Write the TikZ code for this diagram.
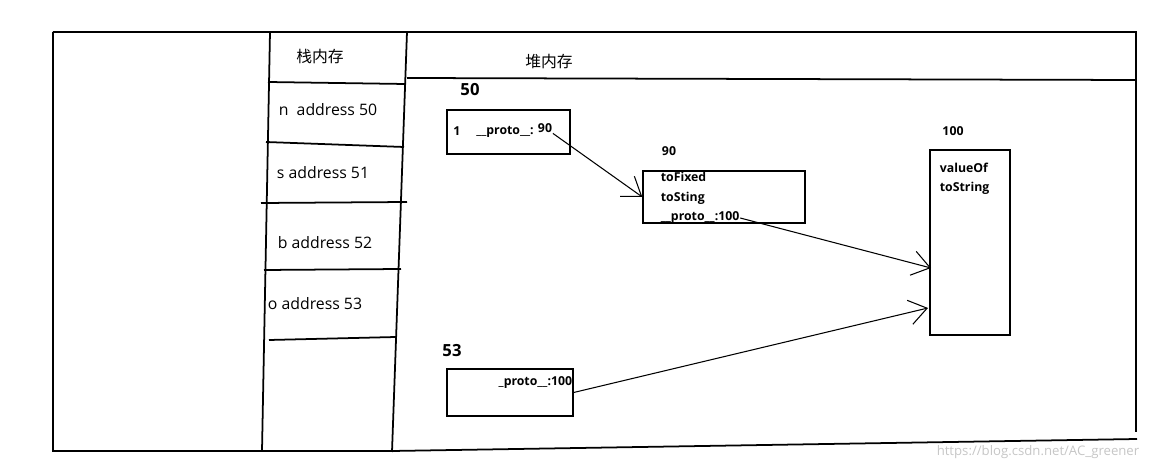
\documentclass[tikz,border=0pt]{standalone}
\usepackage{fontspec}
\setmainfont{Open Sans}
\newfontfamily\cjk{Noto Sans CJK SC}
\usetikzlibrary{arrows.meta}

\begin{document}
\begin{tikzpicture}[x=0.02cm, y=-0.02cm, line width=1pt,
        every node/.style={inner sep=0pt, font=\fontsize{9}{10}\selectfont},
        heapbox/.style={draw, line width=0.8pt},
        small/.style={font=\bfseries\fontsize{7}{8}\selectfont},
        big/.style={font=\bfseries\fontsize{9.5}{10}\selectfont},
        ptr/.style={-{Straight Barb[length=10pt,width=14pt]}, line width=0.6pt}]

            \useasboundingbox (0,0) rectangle (1164,469);

            % Outer frame
            \draw (53,32) -- (1137,32);
            \draw (53,32) -- (53,451) -- (392,451) -- (1137,439);
            \draw (1136,32) -- (1136,432);

            % Stack column
            \draw (270,32) -- (262,451);
            \draw (407,32) -- (392,452);
            \node (stack) at (320,57) {\cjk 栈内存};

            % Stack cells
            \draw (268,82) -- (405,84);
            \draw (266,142) -- (404,147);
            \draw (261,203) -- (407,202);
            \draw (264,270) -- (401,269);
            \draw (269,340) -- (396,337);
            \node (sn) at (328,110) {n\ \ address 50};
            \node (ss) at (323,173) {s address 51};
            \node (sb) at (325,243) {b address 52};
            \node (so) at (315,304) {o address 53};

            % Heap header
            \draw (407,78) -- (1136,80);
            \node (heap) at (549,62) {\cjk 堆内存};

            % Object at 50
            \node[big] (a50) at (470,90) {50};
            \node[heapbox, minimum width=2.46cm, minimum height=0.88cm] (obj50) at (508.5,132) {};
            \node[small] (one) at (457,131) {1};
            \node[small] (pr50) at (505,132) {\_\_proto\_\_:};
            \node[small] (v90) at (545,128) {90};

            % Object at 90
            \node[small] (a90) at (669,151) {90};
            \node[heapbox, minimum width=3.24cm, minimum height=1.04cm] (obj90) at (724,197) {};
            \node[small, anchor=west] (fixed) at (660,177) {toFixed};
            \node[small, anchor=west] (sting) at (660,198) {toSting};
            \node[small, anchor=west] (pr90) at (660,218) {\_\_proto\_\_:100};

            % Object at 100
            \node[small] (a100) at (953,131) {100};
            \node[heapbox, minimum width=1.6cm, minimum height=3.7cm] (obj100) at (970,242.5) {};
            \node[small, anchor=west] (valof) at (939,168) {valueOf};
            \node[small, anchor=west] (tostr) at (939,188) {toString};
            \coordinate (in1) at (931,268);
            \coordinate (in2) at (928,308);

            % Object at 53
            \node[big] (a53) at (452,351) {53};
            \node[heapbox, minimum width=2.52cm, minimum height=0.94cm] (obj53) at (510,392.5) {};
            \node[small, anchor=east] (pr53) at (573,383) {\_proto\_\_:100};

            % Pointers
            \draw[ptr] (v90.south east) -- (obj90.west);
            \draw[ptr] (pr90.east) -- (in1);
            \draw[ptr] (obj53.east) -- (in2);

            % Watermark
            \node[text=gray!45, font=\fontsize{7.5}{8}\selectfont] (mark) at (1038,452) {https://blog.csdn.net/AC\_greener};

        \end{tikzpicture}
\end{document}
